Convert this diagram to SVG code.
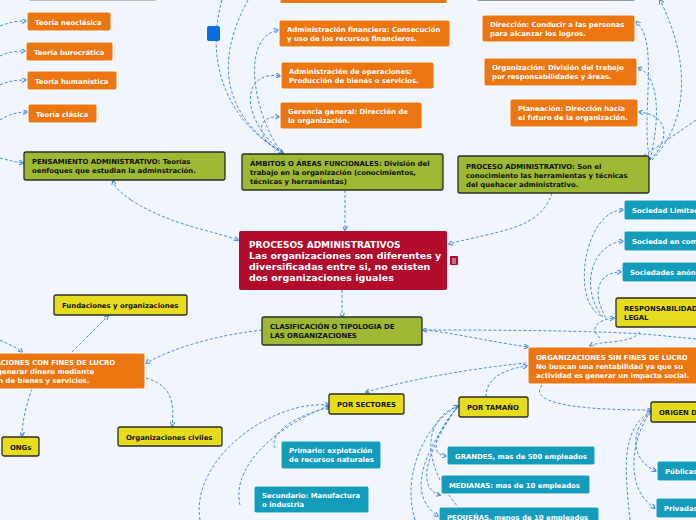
<svg xmlns="http://www.w3.org/2000/svg" width="696" height="520" viewBox="0 0 696 520">
<defs>
<style>
text{font-family:"DejaVu Sans",Verdana,sans-serif;font-weight:bold;font-size:6.9px}
.w{fill:#fff}.k{fill:#111}
.or{fill:#ec7611;stroke:#fff;stroke-width:1}
.gr{fill:#9db833;stroke:#2b2b2b;stroke-width:1.3}
.ye{fill:#e6dc1c;stroke:#2b2b2b;stroke-width:1.3}
.te{fill:#149cbd;stroke:#fff;stroke-width:1}
.c path{fill:none;stroke:#4a8fe0;stroke-width:1;stroke-dasharray:3,2;marker-end:url(#a)}
</style>
<marker id="a" viewBox="0 0 6 6" refX="5" refY="3" markerWidth="5" markerHeight="5" orient="auto"><path d="M0,0L6,3L0,6" fill="none" stroke="#4a8fe0" stroke-width="1.3"/></marker>
</defs>
<rect width="696" height="520" fill="#f1f5fd"/>
<g class="c">
<path d="M0,26 C10,22 18,21 26,21"/>
<path d="M0,56 C8,52 16,51 25,51"/>
<path d="M0,85 C8,81 16,80 26,80"/>
<path d="M0,120 C8,115 16,112 27,112"/>
<path d="M0,158 C8,160 15,162 23,163"/>
<path d="M131,200 C120,192 115,188 113,181"/>
<path d="M131,200 C170,225 210,230 238,240"/>
<path d="M222,0 C205,60 225,120 283,153"/>
<path d="M248,0 C210,70 230,120 283,153"/>
<path d="M283,153 C260,130 235,40 278,30"/>
<path d="M283,153 C240,120 240,70 280,76"/>
<path d="M283,153 C255,140 255,115 279,117"/>
<path d="M345,190 L345,230"/>
<path d="M696,120 C640,160 630,160 650,160 M650,160 C640,120 660,40 636,22"/>
<path d="M650,160 C660,120 660,75 638,68"/>
<path d="M650,160 C670,140 670,115 639,112"/>
<path d="M652,160 C690,120 690,60 660,0"/>
<path d="M552,193 C540,230 500,230 449,244"/>
<path d="M601,316 C570,300 585,210 623,210"/>
<path d="M603,317 C580,290 590,245 623,241"/>
<path d="M606,318 C590,290 600,272 621,272"/>
<path d="M600,338 C590,330 595,320 614,318"/>
<path d="M640,332 C630,345 600,340 590,346"/>
<path d="M342,290 L342,317"/>
<path d="M696,339 C650,335 640,330 423,330"/>
<path d="M262,330 C220,335 180,345 146,363"/>
<path d="M0,340 C10,345 18,348 22,352"/>
<path d="M72,352 L108,316"/>
<path d="M32,389 C28,400 22,420 22,436"/>
<path d="M146,378 C170,385 175,400 172,426"/>
<path d="M420,330 C440,330 480,340 528,347"/>
<path d="M696,358 C640,355 500,355 366,392"/>
<path d="M486,397 C486,380 500,370 527,366"/>
<path d="M542,385 C530,400 560,410 651,410"/>
<path d="M200,520 C190,460 270,400 329,405"/>
<path d="M240,505 C230,460 290,420 329,406"/>
<path d="M275,448 C270,440 280,420 330,407"/>
<path d="M415,520 C400,470 430,420 458,406"/>
<path d="M470,520 C420,470 420,420 458,406"/>
<path d="M458,406 C430,440 432,455 446,456"/>
<path d="M458,406 C420,460 420,490 440,495"/>
<path d="M458,406 C410,470 415,500 438,516"/>
<path d="M630,520 C625,470 620,430 651,411"/>
<path d="M651,411 C630,430 630,460 656,471"/>
<path d="M651,411 C630,440 625,490 655,508"/>
</g>
<g id="top1"><rect x="30" y="-10" width="125" height="10.5" fill="#d8dde6" stroke="#bbb"/></g>
<g id="top2"><rect class="or" x="280" y="-10" width="167" height="13.5"/></g>
<g id="top3"><rect x="478" y="-10" width="156" height="10.5" fill="#d8dde6" stroke="#999"/></g>
<g id="neo"><rect class="or" x="27" y="12" width="84" height="19" rx="2"/><text class="w" x="35" y="24.5">Teoría neoclásica</text></g>
<g id="buro"><rect class="or" x="26" y="42" width="87" height="19" rx="2"/><text class="w" x="34" y="54.5">Teoría burocrática</text></g>
<g id="hum"><rect class="or" x="27" y="71" width="90" height="19" rx="2"/><text class="w" x="35" y="83.5">Teoría humanística</text></g>
<g id="cla"><rect class="or" x="28" y="104" width="69" height="19" rx="2"/><text class="w" x="36" y="116.5">Teoría clásica</text></g>
<g id="pens"><rect class="gr" x="24" y="152" width="201" height="28" rx="2"/><text class="k" x="32" y="164">PENSAMIENTO ADMINISTRATIVO: Teorías</text><text class="k" x="32" y="173">oenfoques que estudian la adminstración.</text></g>
<g id="blue"><rect x="207" y="26" width="13" height="15" rx="2" fill="#0a6ee0"/></g>
<g id="fin"><rect class="or" x="279" y="20" width="171" height="27" rx="2"/><text class="w" x="287" y="32">Administración financiera: Consecución</text><text class="w" x="287" y="41">y uso de los recursos financieros.</text></g>
<g id="ope"><rect class="or" x="281" y="62" width="153" height="27" rx="2"/><text class="w" x="289" y="74">Administración de operaciones:</text><text class="w" x="289" y="83">Producción de bienes o servicios.</text></g>
<g id="ger"><rect class="or" x="280" y="102" width="142" height="27" rx="2"/><text class="w" x="288" y="114">Gerencia general: Dirección de</text><text class="w" x="288" y="123">la organización.</text></g>
<g id="amb"><rect class="gr" x="242" y="154" width="201" height="36" rx="2"/><text class="k" x="250" y="166">ÁMBITOS O ÁREAS FUNCIONALES: División del</text><text class="k" x="250" y="175">trabajo en la organización  (conocimientos,</text><text class="k" x="250" y="184">técnicas y herramientas)</text></g>
<g id="dir"><rect class="or" x="482" y="15" width="153" height="27" rx="2"/><text class="w" x="490" y="27">Dirección: Conducir a las personas</text><text class="w" x="490" y="36">para alcanzar los logros.</text></g>
<g id="org"><rect class="or" x="484" y="58" width="153" height="28" rx="2"/><text class="w" x="492" y="70">Organización: División del trabajo</text><text class="w" x="492" y="79">por responsabilidades y áreas.</text></g>
<g id="pla"><rect class="or" x="510" y="99" width="128" height="28" rx="2"/><text class="w" x="518" y="111">Planeación: Dirección hacia</text><text class="w" x="518" y="120">el futuro de la organización.</text></g>
<g id="proc"><rect class="gr" x="458" y="156" width="191" height="37" rx="2"/><text class="k" x="466" y="169">PROCESO ADMINISTRATIVO: Son el</text><text class="k" x="466" y="178">conocimiento las herramientas y técnicas</text><text class="k" x="466" y="187">del quehacer administrativo.</text></g>
<g id="central"><rect x="239" y="231" width="208" height="59" rx="2" fill="#b10c2b"/><text class="w" x="249" y="248" style="font-size:9px">PROCESOS ADMINISTRATIVOS</text><text class="w" x="249" y="259" style="font-size:9.5px">Las organizaciones son diferentes y</text><text class="w" x="249" y="270" style="font-size:9.5px">diversificadas entre si, no existen</text><text class="w" x="249" y="281" style="font-size:9.5px">dos organizaciones iguales</text><rect x="450" y="256" width="8" height="9" rx="1" fill="#b10c2b"/><path d="M452,259h4M452,261h4M452,263h4" stroke="#fff" stroke-width="0.8"/></g>
<g id="slim"><rect class="te" x="624" y="200" width="80" height="20" rx="2"/><text class="w" x="632" y="213">Sociedad Limitada</text></g>
<g id="scom"><rect class="te" x="624" y="231" width="80" height="20" rx="2"/><text class="w" x="632" y="244">Sociedad en comandita</text></g>
<g id="sano"><rect class="te" x="622" y="262" width="80" height="20" rx="2"/><text class="w" x="630" y="275">Sociedades anónimas</text></g>
<g id="resp"><rect class="ye" x="616" y="298" width="90" height="29" rx="2"/><text class="k" x="624" y="311">RESPONSABILIDAD</text><text class="k" x="624" y="320">LEGAL</text></g>
<g id="clas"><rect class="gr" x="262" y="317" width="160" height="28" rx="2"/><text class="k" x="270" y="329">CLASIFICACIÓN O TIPOLOGIA DE</text><text class="k" x="270" y="338">LAS ORGANIZACIONES</text></g>
<g id="sin"><rect class="or" x="528" y="347" width="180" height="37" rx="2"/><text class="w" x="536" y="360">ORGANIZACIONES SIN FINES DE LUCRO</text><text class="w" x="536" y="369">No buscan una rentabilidad ya que su</text><text class="w" x="536" y="378">actividad es generar un impacto social.</text></g>
<g id="fund"><rect class="ye" x="54" y="295" width="133" height="20" rx="2"/><text class="k" x="62" y="308">Fundaciones y organizaciones</text></g>
<g id="con"><rect class="or" x="-60" y="353" width="205" height="36" rx="2"/><text class="w" x="-40" y="365">ORGANIZACIONES CON FINES DE LUCRO</text><text class="w" x="-40" y="374">Son para generar dinero mediante</text><text class="w" x="-40" y="383">producción de bienes y servicios.</text></g>
<g id="ong"><rect class="ye" x="2" y="437" width="37" height="19" rx="2"/><text class="k" x="10" y="450">ONGs</text></g>
<g id="civ"><rect class="ye" x="118" y="427" width="104" height="19" rx="2"/><text class="k" x="126" y="440">Organizaciones civiles</text></g>
<g id="sec"><rect class="ye" x="329" y="394" width="75" height="20" rx="2"/><text class="k" x="337" y="407">POR SECTORES</text></g>
<g id="tam"><rect class="ye" x="459" y="397" width="69" height="20" rx="2"/><text class="k" x="467" y="410">POR TAMAÑO</text></g>
<g id="ori"><rect class="ye" x="651" y="402" width="60" height="20" rx="2"/><text class="k" x="659" y="415">ORIGEN DEL CAPITAL</text></g>
<g id="pri"><rect class="te" x="281" y="441" width="100" height="28" rx="2"/><text class="w" x="289" y="453">Primario: explotación</text><text class="w" x="289" y="462">de recursos naturales</text></g>
<g id="secu"><rect class="te" x="254" y="486" width="115" height="27" rx="2"/><text class="w" x="262" y="498">Secundario: Manufactura</text><text class="w" x="262" y="507">o industria</text></g>
<g id="gra"><rect class="te" x="447" y="446" width="148" height="19" rx="2"/><text class="w" x="455" y="458.5">GRANDES, mas de 500 empleados</text></g>
<g id="med"><rect class="te" x="441" y="475" width="149" height="19" rx="2"/><text class="w" x="449" y="487.5">MEDIANAS: mas de 10 empleados</text></g>
<g id="peq"><rect class="te" x="439" y="507" width="160" height="19" rx="2"/><text class="w" x="447" y="519.5">PEQUEÑAS,  menos de 10 empleados</text></g>
<g id="pub"><rect class="te" x="657" y="461" width="50" height="20" rx="2"/><text class="w" x="665" y="474">Públicas</text></g>
<g id="priv"><rect class="te" x="656" y="498" width="50" height="20" rx="2"/><text class="w" x="664" y="511">Privadas</text></g>
</svg>
